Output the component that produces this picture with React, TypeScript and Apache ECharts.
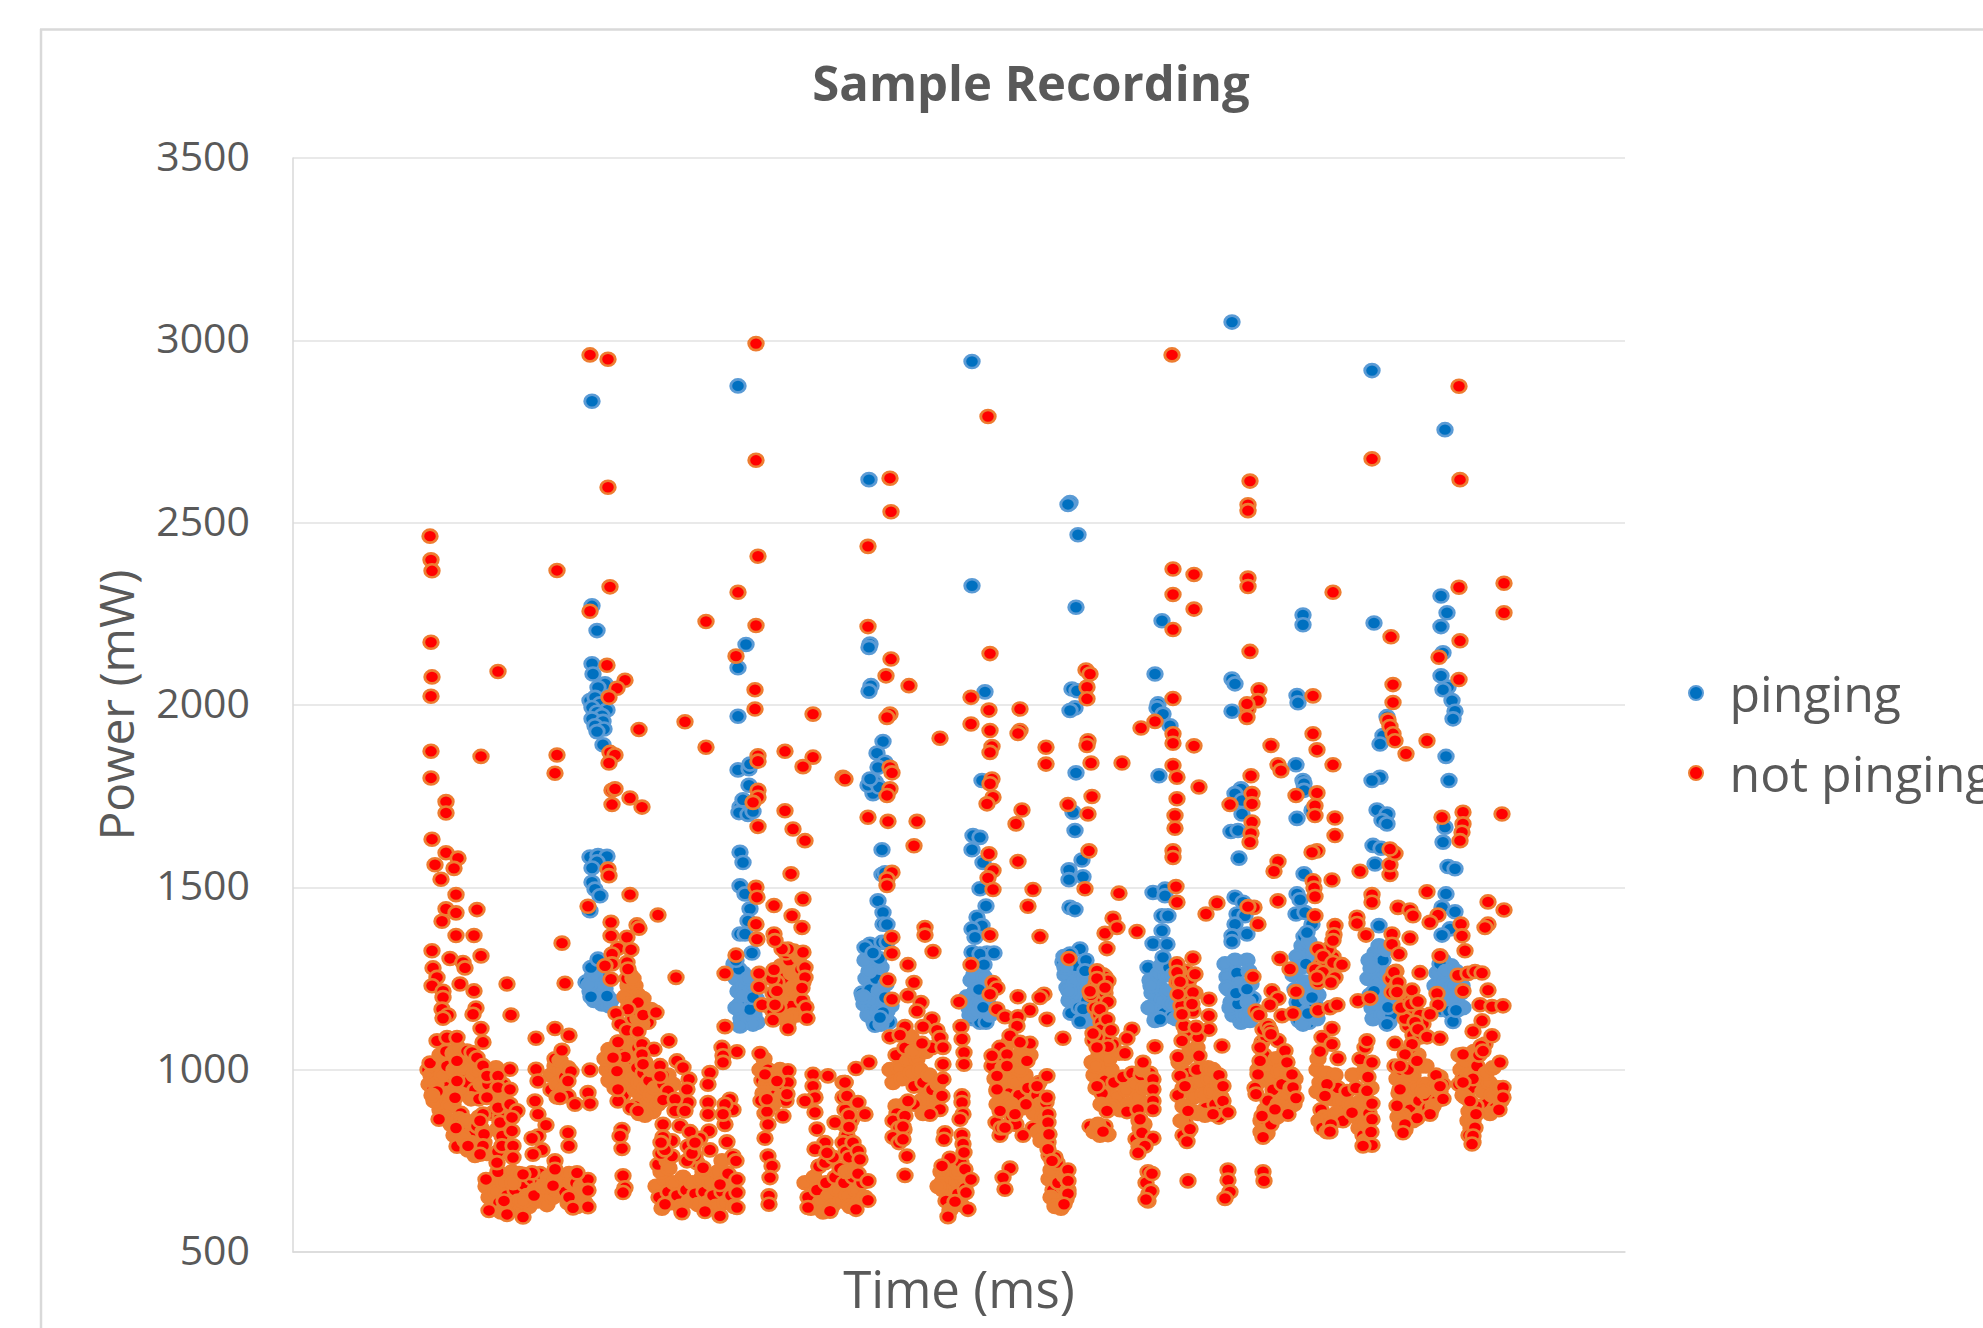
import React, { useEffect, useRef } from "react";
import * as echarts from "echarts";

const chartTitle = "Sample Recording";
const xAxisName = "Time (ms)";
const yAxisName = "Power (mW)";
const seriesNames = ["pinging", "not pinging"];

type P = number[];

// pinging: heavily overplotted lower clusters, drawn first
const pingMass1: P[] = [[293,1240],[297,1215],[299,1255],[301,1190],[303,1235],[305,1270],[306,1205],[309,1180],[310,1250],[312,1222],[314,1195],[316,1175],[300,1225],[304,1200],[308,1235],[296,1232],[298,1200],[318,1190],[302,1262],[306,1288],[298,1280]];
const pingMass2: P[] = [[441,1290],[443,1250],[445,1215],[447,1180],[448,1140],[450,1265],[451,1230],[453,1195],[454,1160],[456,1130],[458,1215],[459,1180],[461,1150],[463,1195],[464,1130],[446,1275],[449,1205],[452,1145],[455,1250],[457,1165],[460,1125],[443,1170],[447,1120]];
const pingMass3: P[] = [[569,1210],[571,1180],[573,1250],[575,1150],[577,1220],[578,1290],[580,1190],[581,1130],[583,1250],[585,1160],[586,1215],[588,1280],[590,1140],[591,1190],[593,1235],[594,1160],[596,1130],[598,1175],[576,1270],[570,1200],[582,1122],[588,1125],[592,1145],[572,1300],[586,1305]];
const pingMass4: P[] = [[674,1200],[676,1170],[678,1245],[680,1140],[682,1215],[684,1270],[685,1180],[687,1130],[689,1240],[690,1160],[692,1210],[693,1130],[695,1180],[697,1150],[681,1260],[686,1220],[677,1150],[683,1160],[691,1255]];
const pingMass5: P[] = [[770,1295],[772,1260],[774,1225],[776,1190],[778,1155],[780,1275],[782,1240],[784,1205],[786,1170],[788,1135],[790,1265],[792,1225],[794,1190],[795,1155],[796,1130],[776,1215],[783,1285],[792,1255],[771,1310],[772,1280]];
const pingMass6: P[] = [[855,1280],[857,1245],[859,1210],[861,1175],[863,1150],[865,1262],[867,1225],[869,1190],[871,1155],[873,1260],[875,1215],[877,1180],[879,1145],[881,1180],[883,1140],[856,1170],[866,1140],[862,1135],[858,1230],[868,1285],[876,1280],[880,1260]];
const pingMass7: P[] = [[932,1290],[934,1255],[936,1220],[938,1185],[940,1150],[942,1300],[944,1265],[946,1235],[948,1195],[950,1160],[952,1135],[954,1300],[956,1270],[958,1235],[960,1195],[948,1130],[951,1150],[937,1170],[945,1180],[955,1185],[934,1225],[958,1160],[943,1210],[957,1135]];
const pingMass8: P[] = [[1000,1260],[1002,1220],[1004,1185],[1005,1150],[1007,1300],[1009,1340],[1011,1365],[1012,1240],[1014,1195],[1015,1155],[1016,1130],[1018,1320],[1019,1280],[1021,1230],[1022,1180],[1024,1140],[1004,1310],[1008,1280],[1013,1290],[1017,1205],[1020,1150],[1025,1205],[1006,1135],[1010,1125],[1016,1350]];
const pingMass9: P[] = [[1075,1250],[1077,1205],[1079,1170],[1080,1140],[1082,1320],[1084,1280],[1085,1240],[1087,1195],[1089,1150],[1090,1300],[1092,1265],[1094,1220],[1095,1175],[1096,1130],[1098,1250],[1100,1190],[1076,1300],[1081,1215],[1086,1340],[1093,1330],[1078,1278],[1098,1150]];
const pingMass10: P[] = [[1142,1230],[1144,1265],[1146,1195],[1148,1165],[1150,1300],[1152,1240],[1154,1200],[1156,1160],[1158,1285],[1160,1230],[1162,1190],[1164,1163],[1166,1260],[1168,1210],[1170,1170],[1147,1290],[1153,1270],[1163,1270],[1169,1230]];

// pinging: readable stems and scattered upper points
const pingStem1: P[] = [[297,1583],[305,1587],[314,1585],[304,1570],[299,1553],[299,1514],[302,1495],[307,1477],[297,1436],[305,1303],[447,1596],[450,1568],[447,1504],[452,1482],[457,1441],[455,1408],[447,1372],[452,1372],[447,1720],[446,1705],[455,1700],[460,1708],[450,1740],[456,1780],[459,1320],[443,1300]];
const pingStem2: P[] = [[585,1463],[590,1431],[590,1399],[594,1398],[589,1603],[589,1535],[592,1540],[580,1757],[575,1780],[582,1790],[586,1775],[577,1344],[589,1349],[572,1335],[580,1320],[594,1350],[680,1642],[687,1637],[679,1603],[690,1568],[687,1496],[693,1449],[684,1418],[689,1395],[679,1386],[682,1363],[679,1322],[694,1320],[687,1317],[701,1320],[691,1288]];
const pingStem3: P[] = [[780,1706],[782,1656],[789,1575],[790,1529],[776,1548],[776,1521],[777,1445],[782,1439],[787,1331],[777,1317],[793,1300],[860,1486],[872,1495],[872,1477],[869,1422],[875,1422],[869,1381],[860,1346],[874,1344],[870,1308]];
const pingEdges: P[] = [[590,1157],[587,1143],[592,1198],[314,1202],[460,1198],[690,1171],[792,1271],[790,1166],[787,1132],[867,1138],[954,1221],[1019,1198],[1015,1154],[1094,1125],[1095,1171],[1160,1132],[1163,1163]];
const pingUpper1: P[] = [[299,2833],[445,2875],[299,2272],[304,2204],[453,2166],[445,2102],[445,1969],[299,2113],[300,2085],[312,2058],[305,2048],[297,2012],[302,2021],[307,2003],[314,1986],[299,1993],[304,1980],[309,1971],[299,1962],[310,1955],[302,1943],[311,1934],[304,1927],[310,1891],[445,1822],[456,1825],[457,1838]];
const pingUpper2: P[] = [[576,2618],[679,2942],[777,2555],[775,2550],[785,2467],[679,2327],[783,2268],[869,2231],[577,2167],[576,2158],[578,2053],[576,2038],[692,2036],[862,2085],[779,2044],[784,2039],[782,1992],[777,1985],[865,2003],[864,1992],[870,1975],[877,1943],[590,1900],[584,1868],[592,1843],[585,1829],[783,1814],[866,1806],[689,1793],[577,1797]];
const pingUpper3: P[] = [[939,3050],[1079,2917],[1152,2755],[1148,2299],[1154,2253],[1148,2215],[1010,2247],[1010,2220],[1081,2225],[1150,2143],[939,2071],[942,2058],[1004,2026],[1005,2006],[939,1983],[1148,2080],[1155,2049],[1150,2042],[1159,2012],[1162,1983],[1160,1962],[1094,1968],[1090,1916],[1087,1893],[1003,1836],[1153,1859],[1087,1802],[1079,1793],[1010,1793],[1156,1793]];
const pingUpper4: P[] = [[948,1770],[942,1757],[949,1738],[949,1701],[938,1653],[945,1656],[946,1580],[1011,1784],[1011,1766],[1004,1689],[1019,1711],[1011,1537],[1004,1482],[1007,1466],[1003,1427],[1012,1431],[1019,1399],[1014,1376],[942,1473],[950,1459],[944,1427],[952,1422],[942,1399],[954,1372],[939,1367],[939,1351],[1084,1712],[1094,1701],[1089,1683],[1094,1674],[1080,1615],[1088,1607],[1082,1564],[1153,1482],[1149,1445],[1162,1433],[1157,1386],[1149,1369],[1152,1665],[1150,1624],[1155,1557],[1162,1551],[1086,1395]];

// not pinging: heavily overplotted clusters, drawn first
const quietMass1: P[] = [[135,1000],[138,985],[136,960],[140,945],[142,1010],[145,975],[148,950],[146,925],[150,1000],[152,965],[155,935],[157,1025],[158,985],[160,905],[163,950],[165,1015],[166,975],[170,1040],[172,990],[175,940],[178,1010],[168,880],[147,890],[141,915],[137,1018],[143,960],[149,985],[154,1010],[161,1000],[169,1005],[174,965],[181,985],[185,1000],[182,945],[188,960],[178,920],[186,920],[156,900],[152,870],[144,940],[139,930],[147,1040],[153,1050],[160,1045],[165,1060],[195,960],[199,930],[203,1005],[210,960],[207,925],[212,885],[199,880]];
const quietMass2: P[] = [[158,850],[161,820],[164,790],[166,865],[169,835],[172,805],[175,780],[177,850],[180,820],[183,790],[186,870],[188,840],[191,800],[194,770],[168,850],[173,860],[178,800],[184,845],[190,830],[170,815],[163,840],[182,765],[204,835],[207,870],[211,810],[214,775],[205,775]];
const quietMass3: P[] = [[193,680],[196,650],[198,620],[200,700],[203,665],[206,635],[208,610],[211,690],[214,655],[216,625],[219,705],[222,670],[225,640],[228,615],[231,685],[234,655],[236,625],[239,700],[242,670],[245,640],[248,695],[251,660],[254,630],[257,680],[260,650],[263,670],[205,720],[219,720],[226,715],[247,715],[255,705],[262,695],[211,640],[220,690],[230,640],[241,655],[250,680]];
const quietMass4: P[] = [[270,700],[272,665],[275,635],[278,690],[281,655],[284,625],[287,700],[290,665],[292,635],[276,715],[283,690],[288,680],[285,660],[276,650],[258,985],[262,1010],[258,945],[264,960],[268,1000],[272,980],[264,925],[270,945],[262,1030],[267,1025],[275,1005],[278,995]];
const quietMass5: P[] = [[314,1000],[316,970],[318,1040],[320,1010],[322,950],[324,1050],[326,1020],[328,985],[330,930],[332,1000],[335,960],[338,1030],[340,985],[342,945],[344,1005],[346,965],[348,925],[350,990],[352,950],[354,905],[356,970],[358,930],[360,885],[342,900],[346,880],[352,875],[338,895],[362,950],[365,905],[332,1060],[336,1070],[340,1040],[345,1060],[312,1030],[316,1055],[325,1075],[358,1000],[352,1020],[370,960],[375,985],[380,960],[370,985]];
const quietMass6: P[] = [[335,1230],[338,1210],[340,1190],[342,1230],[345,1205],[347,1170],[350,1195],[337,1260],[334,1250],[340,1250],[352,1150],[355,1130],[358,1165],[349,1125],[340,1140],[345,1140],[332,1200],[341,1165],[336,1180]];
const quietMass7: P[] = [[363,680],[366,650],[369,620],[372,700],[375,665],[378,635],[381,690],[384,655],[387,625],[390,705],[393,670],[396,640],[399,690],[402,660],[405,630],[408,700],[411,665],[414,635],[417,690],[420,655],[423,625],[426,700],[429,665],[432,635],[435,690],[438,655],[441,625],[368,720],[365,740],[374,750],[376,730],[404,745],[410,720],[425,720],[435,715],[429,750]];
const quietMass8: P[] = [[467,1000],[469,970],[471,1030],[473,960],[475,1000],[477,945],[479,985],[482,930],[485,960],[470,935],[468,915],[475,915],[487,1000],[490,960],[492,985],[488,925],[493,915],[480,905]];
const quietMass9: P[] = [[488,1285],[490,1250],[492,1210],[494,1165],[496,1300],[498,1265],[500,1225],[502,1185],[504,1150],[506,1310],[508,1275],[510,1240],[505,1200],[498,1175],[495,1130],[500,1150],[509,1190],[492,1145],[487,1190],[493,1320],[501,1325]];
const quietMass10: P[] = [[512,690],[515,650],[518,620],[521,705],[524,670],[527,635],[530,610],[533,690],[536,655],[539,625],[542,705],[545,670],[548,640],[551,690],[554,655],[557,625],[560,705],[563,670],[566,640],[569,690],[572,650],[526,735],[547,730],[553,720],[560,725],[565,715]];
const quietMass12: P[] = [[597,1000],[600,965],[603,1040],[606,1005],[609,975],[612,1060],[615,1025],[618,990],[621,955],[624,1030],[627,1000],[630,965],[633,930],[636,985],[639,945],[642,900],[645,960],[648,930],[636,900],[628,915],[621,905],[630,880],[633,1050],[639,1060],[612,905],[603,900],[604,880],[618,1090],[620,1050]];
const quietMass13: P[] = [[655,700],[658,670],[661,640],[655,660],[659,720],[663,690],[665,660],[668,630],[670,700],[672,675],[650,695],[650,670],[653,640],[657,615],[664,720],[668,745],[645,680],[648,720]];
const quietMass14: P[] = [[699,1010],[702,975],[704,940],[707,1040],[710,1005],[713,970],[716,935],[720,1000],[723,965],[726,930],[729,895],[732,985],[735,950],[738,915],[741,880],[744,930],[747,905],[750,870],[753,910],[727,1000],[712,920],[709,890],[704,905],[718,905],[733,905],[724,1030],[737,1040],[746,965],[729,1050],[716,1075],[740,840],[745,830],[752,840],[755,800],[748,805]];
const quietMass15: P[] = [[756,700],[760,670],[763,640],[767,715],[770,680],[773,645],[758,650],[765,690],[771,710],[758,725],[764,745],[768,620],[762,625],[775,670]];
const quietMass16: P[] = [[799,1020],[801,985],[803,950],[806,1040],[809,1005],[812,970],[815,930],[818,1000],[821,965],[824,925],[827,890],[830,980],[833,945],[836,905],[839,990],[842,960],[845,925],[848,985],[851,950],[854,905],[857,990],[816,1030],[803,1010],[809,935],[819,900],[808,905],[834,885],[826,1045],[849,1000],[797,845],[801,830],[807,820],[812,845],[815,822],[805,850],[846,860],[851,850],[847,840],[843,810],[846,790]];
const quietMass17: P[] = [[886,1020],[888,985],[890,950],[892,1030],[895,990],[898,960],[901,925],[904,1000],[907,965],[910,930],[913,895],[916,975],[919,940],[922,905],[925,960],[928,925],[931,890],[900,885],[905,880],[892,855],[895,830],[888,860],[890,820],[915,1005],[920,1000],[926,985],[897,1050],[904,1060],[885,930],[890,900],[912,875],[926,870]];
const quietMass18: P[] = [[965,1000],[968,970],[971,1040],[974,1010],[977,975],[980,945],[983,1030],[986,995],[989,960],[992,925],[995,990],[998,950],[1001,905],[972,890],[975,915],[979,880],[985,905],[990,880],[996,895],[968,860],[971,840],[974,825],[968,830],[978,850],[984,870],[1002,975],[962,950]];
const quietMass19: P[] = [[1024,1000],[1027,965],[1030,930],[1025,1030],[1033,990],[1036,955],[1039,920],[1042,985],[1045,950],[1048,915],[1051,880],[1054,940],[1057,905],[1060,985],[1063,950],[1066,910],[1069,870],[1028,890],[1031,870],[1026,860],[1029,840],[1036,865],[1043,880],[1050,860],[1063,870],[1066,840],[1070,820],[1073,850],[1072,805],[1076,880],[1072,1000],[1034,830],[1038,850],[1024,940],[1078,950]];
const quietMass20: P[] = [[1102,1010],[1104,975],[1106,935],[1108,1000],[1111,965],[1114,925],[1117,890],[1120,985],[1123,950],[1126,915],[1129,880],[1132,960],[1135,925],[1138,890],[1141,950],[1144,915],[1147,980],[1147,940],[1135,895],[1130,940],[1140,900],[1150,960],[1120,1040],[1128,1010],[1115,1000],[1110,875],[1105,870],[1112,835],[1107,845],[1120,860],[1143,985],[1125,1040],[1133,1010],[1150,920]];
const quietMass21: P[] = [[1166,1040],[1168,1000],[1170,975],[1172,1020],[1175,985],[1178,950],[1172,925],[1181,1050],[1184,1010],[1187,975],[1190,940],[1193,905],[1196,965],[1199,930],[1202,895],[1205,950],[1208,915],[1180,975],[1193,990],[1200,1005],[1166,960],[1170,930],[1176,885],[1183,900],[1178,840],[1175,860],[1176,820],[1180,860],[1180,800],[1186,1040],[1197,880]];

// not pinging: looser columns with readable red centres
const quietLoose1: P[] = [[475,1175],[480,1210],[480,1160],[484,1240],[486,1170],[479,1250],[472,880],[474,885],[550,965],[553,930],[556,900],[560,870],[552,890],[551,850],[554,820],[558,860],[550,800],[553,775],[556,760],[560,800],[556,875],[526,735],[532,745],[540,760]];
const quietLoose2: P[] = [[600,860],[606,840],[600,815],[611,835],[606,800],[703,855],[707,820],[708,840],[719,870],[723,850],[730,820],[756,765],[762,760],[820,1070],[811,1075],[855,720],[853,690],[856,660],[855,640],[905,1090],[893,1105],[891,1120],[969,1075],[973,1090],[970,1110],[975,1120],[985,1080],[1118,1060],[1192,1070],[1188,1065]];
const quietLoose3: P[] = [[1112,1160],[1115,1195],[1118,1130],[1121,1165],[1124,1100],[1127,1150],[1130,1125],[1115,1120],[1112,1140],[1120,1095],[1122,1130],[1108,1170],[1128,1090],[1118,1180],[1103,1270],[1104,1240],[1098,1250],[1102,1225],[1106,1210],[1099,1212]];
const quietLoose4: P[] = [[1030,1320],[1036,1280],[1028,1290],[1033,1250],[1025,1240],[1022,1275],[1040,1310],[1035,1330],[893,1270],[895,1230],[891,1195],[897,1250],[892,1160],[898,1200],[894,1170],[890,1220],[902,1210],[886,1270],[884,1240],[888,1175],[900,1160],[803,1235],[806,1205],[802,1170],[806,1150],[808,1130],[810,1195],[810,1260],[808,1110],[813,1090],[812,1210],[798,1205],[800,1080],[804,1090],[812,1255]];

// not pinging: individually readable points, drawn on top
const quietUpper1: P[] = [[297,2960],[315,2948],[315,2597],[463,2991],[463,2671],[137,2463],[138,2398],[139,2368],[264,2369],[317,2324],[297,2257],[445,2309],[465,2408],[413,2229],[463,2218],[138,2172],[314,2109],[443,2134],[139,2077],[205,2092],[332,2068],[324,2046],[316,2021],[138,2024],[462,2042],[462,1989],[520,1975],[392,1954],[346,1933],[413,1884],[138,1873],[188,1859],[264,1863],[262,1813],[138,1800],[317,1870],[322,1863],[316,1841],[465,1861],[465,1846],[492,1873],[520,1857],[510,1831],[550,1802]];
const quietUpper2: P[] = [[597,2622],[598,2530],[575,2435],[575,2215],[598,2126],[593,2080],[616,2053],[597,1975],[594,1966],[647,1909],[695,2791],[697,2141],[678,2021],[696,1986],[727,1989],[678,1948],[697,1930],[727,1930],[725,1922],[699,1886],[697,1870],[753,1884],[753,1838],[795,1902],[794,1889],[798,1841],[829,1841],[552,1797],[597,1829],[599,1814],[699,1797],[793,2096],[797,2085],[794,2049],[794,2017],[879,2960],[880,2373],[880,2303],[880,2207],[880,2018],[848,1937],[862,1955],[880,1921],[880,1895],[880,1834],[884,1802]];
const quietUpper3: P[] = [[1166,2874],[1167,2618],[1079,2675],[957,2614],[955,2549],[955,2533],[955,2348],[955,2325],[901,2358],[901,2263],[1040,2309],[1166,2323],[1211,2334],[1211,2253],[1098,2187],[1167,2176],[957,2147],[1100,2056],[1166,2070],[1146,2131],[966,2042],[965,2012],[1020,2025],[955,1989],[954,2003],[954,1966],[1100,2007],[1095,1959],[1097,1941],[1100,1921],[1102,1902],[1113,1866],[1134,1902],[1020,1921],[1024,1877],[978,1889],[901,1888],[985,1836],[988,1820],[1040,1836],[958,1806]];
const quietSide1: P[] = [[153,1735],[153,1704],[139,1632],[153,1595],[165,1580],[142,1562],[161,1552],[148,1522],[163,1480],[153,1441],[163,1430],[184,1439],[149,1407],[163,1368],[181,1368],[139,1326],[157,1305],[188,1312],[170,1294],[172,1279],[140,1279],[144,1253],[139,1230],[167,1235],[150,1215],[181,1216],[150,1198],[149,1166],[183,1169],[180,1152],[155,1150],[150,1141],[214,1235],[218,1150],[188,1113],[190,1075],[144,1079],[154,1088],[164,1088],[262,1113],[276,1094],[243,1086],[269,1347],[272,1237],[269,1053]];
const quietSide2: P[] = [[146,864],[162,923],[164,969],[164,1024],[174,1051],[179,1047],[184,1033],[190,1011],[194,983],[194,924],[190,878],[187,860],[191,823],[190,791],[175,791],[187,768],[205,983],[205,951],[205,896],[207,855],[209,818],[209,791],[220,791],[220,759],[204,745],[217,1001],[217,946],[217,905],[224,887],[219,869],[219,832],[243,1001],[245,969],[242,914],[245,878],[253,848],[245,818],[239,812],[249,780],[240,768],[262,750],[262,727],[260,682],[230,596],[214,603],[196,614],[193,699],[239,717],[230,713],[295,699],[295,669],[295,624],[280,621],[284,717],[275,969],[275,928],[267,924],[282,905],[297,999],[295,937],[297,907],[275,827],[276,791],[329,836],[329,784],[330,709],[332,676],[330,663],[327,818]];
const quietSide3: P[] = [[319,1766],[322,1770],[319,1727],[337,1745],[349,1720],[465,1766],[465,1747],[460,1733],[492,1710],[465,1667],[500,1660],[512,1628],[498,1537],[315,1550],[316,1532],[337,1480],[295,1448],[365,1424],[318,1404],[318,1367],[334,1363],[344,1397],[346,1388],[325,1333],[338,1329],[319,1317],[319,1290],[312,1285],[334,1294],[335,1276],[318,1248],[383,1253],[345,1184],[335,1166],[323,1154],[350,1150],[363,1157],[327,1125],[334,1108],[345,1105],[325,1076],[349,1070],[376,1079],[361,1056],[349,1042],[332,1035],[350,1015]];
const quietSide4: P[] = [[367,1011],[367,982],[375,942],[370,917],[345,887],[325,914],[325,946],[324,996],[320,1033],[384,1024],[390,1006],[396,974],[394,946],[395,910],[382,919],[382,887],[392,887],[417,992],[415,960],[415,910],[415,878],[416,832],[417,780],[407,812],[400,786],[402,763],[394,750],[387,846],[379,805],[379,763],[370,850],[369,800],[429,1061],[430,1038],[430,1020],[444,1049],[437,919],[440,890],[432,850],[434,802],[440,763],[443,750],[432,905],[430,878],[444,699],[444,663],[444,622],[427,599],[412,611],[389,608],[372,631],[410,731],[427,685],[368,770],[372,780],[370,815],[368,800],[395,790],[399,770],[397,830],[402,800]];
const quietSide5: P[] = [[495,997],[495,965],[494,933],[490,873],[472,987],[474,919],[475,850],[472,812],[475,763],[479,736],[477,704],[476,654],[476,631],[484,969],[467,1044],[520,987],[535,983],[520,955],[522,924],[522,883],[524,837],[512,914],[542,855],[532,800],[522,782],[534,772],[552,965],[550,924],[515,622],[537,612],[443,1314],[432,1264],[432,1118],[466,1264],[466,1227],[481,1274],[484,1216],[510,1322],[512,1280],[512,1253],[509,1224],[513,1171],[514,1141],[480,1136],[469,1178],[482,1178],[495,1113],[495,1331],[489,1331],[481,1372],[482,1354],[463,1399],[464,1358],[481,1450],[499,1422],[509,1390],[510,1468],[463,1500],[464,1473]];
const quietSide6: P[] = [[597,1770],[594,1752],[575,1692],[595,1681],[624,1681],[621,1614],[599,1541],[594,1523],[594,1505],[632,1390],[632,1369],[640,1324],[599,1363],[599,1319],[615,1288],[621,1239],[595,1246],[615,1203],[599,1193],[628,1184],[624,1161],[666,1186],[639,1139],[630,1118],[644,1108],[647,1088],[650,1061],[612,1118],[597,1090],[607,1095],[629,1072],[668,1118],[669,1084],[671,1047],[671,1015],[576,1020],[563,1003],[552,965],[554,928],[565,910],[572,878],[556,843],[565,777],[567,754],[575,695],[575,642],[563,617],[650,1015],[650,974],[649,928],[647,891],[637,878],[615,914],[612,873],[610,844],[610,809],[614,763],[612,710],[652,827],[651,809],[657,757],[649,736],[669,928],[669,910],[670,878],[667,864],[669,821],[670,796],[671,773],[672,727],[678,699],[675,617],[655,597],[662,638],[673,663]];
const quietSide7: P[] = [[700,1747],[694,1729],[697,1784],[729,1712],[723,1674],[696,1592],[700,1546],[695,1526],[700,1494],[725,1571],[740,1494],[735,1448],[747,1365],[697,1369],[678,1288],[700,1239],[704,1224],[697,1207],[725,1200],[751,1207],[747,1198],[704,1166],[737,1163],[712,1145],[725,1145],[724,1120],[754,1138],[770,1086],[717,1093],[707,1061],[737,1072],[727,1075],[699,1038],[714,1042],[734,1024],[714,1010],[754,983],[704,983],[704,946],[744,955],[754,924],[707,887],[722,878],[755,878],[712,841],[755,855],[756,823],[755,782],[759,750],[717,730],[710,704],[712,672],[775,725],[775,695],[775,660],[771,631]];
const quietSide8: P[] = [[775,1727],[799,1749],[795,1701],[796,1600],[792,1496],[826,1484],[776,1305],[820,1415],[812,1374],[824,1390],[844,1379],[814,1332],[804,1271],[815,1244],[797,1215],[804,1250],[812,1225],[815,1186],[807,1166],[814,1138],[818,1108],[800,1099],[839,1111],[834,1086],[815,1063],[804,1061],[832,1045],[862,1063],[850,1020],[860,974],[860,946],[860,914],[860,891],[804,955],[814,887],[845,891],[847,864],[849,827],[860,812],[852,791],[845,772],[810,830],[859,715],[858,667],[853,644]];
const quietSide9: P[] = [[884,1743],[906,1775],[882,1697],[882,1662],[880,1600],[880,1582],[883,1502],[884,1459],[924,1457],[913,1427],[959,1757],[959,1729],[937,1727],[959,1679],[958,1648],[957,1624],[985,1571],[981,1544],[961,1445],[955,1447],[965,1399],[985,1463],[960,1255],[900,1306],[884,1290],[884,1267],[902,1262],[887,1241],[900,1212],[885,1207],[916,1193],[889,1152],[899,1180],[916,1148],[916,1111],[903,1116],[889,1079],[929,1065],[906,1038],[885,1035],[887,983],[892,955],[930,955],[930,914],[935,883],[895,887],[897,837],[894,803],[920,878],[895,695],[935,725],[935,697],[937,665],[932,647],[970,720],[971,695]];
const quietSide10: P[] = [[1003,1752],[1024,1759],[1022,1724],[1022,1697],[1042,1690],[1042,1642],[1024,1600],[1019,1596],[1020,1518],[1039,1520],[1021,1498],[1022,1475],[1022,1422],[1042,1395],[1041,1370],[1040,1354],[987,1305],[997,1276],[1003,1214],[979,1216],[985,1196],[977,1178],[963,1161],[966,1150],[989,1148],[1000,1154],[1025,1331],[1030,1311],[1040,1294],[1049,1288],[1030,1267],[1042,1253],[1024,1253],[1038,1239],[1025,1163],[1037,1170],[1044,1178],[1039,1113],[1029,1088],[1039,1070],[977,1108],[978,1097],[967,1061],[992,1052],[967,1024],[994,1020],[999,987],[1000,951],[1003,922],[965,987],[963,933],[995,878],[982,891],[969,873],[970,815],[1027,1050],[1045,1031],[1067,1029],[1079,1020],[1072,1061],[1074,1079],[1075,980],[1074,942],[1079,907],[1079,864],[1078,829],[1079,793],[1070,791],[1034,960],[1032,928],[1037,830],[1059,882]];
const quietSide11: P[] = [[1067,1544],[1097,1535],[1097,1562],[1102,1593],[1097,1605],[1079,1480],[1079,1459],[1064,1418],[1064,1401],[1073,1369],[1065,1189],[1077,1196],[1099,1372],[1099,1344],[1106,1317],[1117,1361],[1105,1445],[1117,1438],[1120,1422],[1101,1267],[1105,1239],[1104,1213],[1127,1266],[1119,1218],[1125,1187],[1144,1209],[1145,1178],[1137,1152],[1125,1111],[1134,1090],[1147,1086],[1102,1072],[1119,1070],[1112,1042],[1124,1024],[1147,955],[1107,1010],[1107,946],[1104,901],[1137,878],[1124,867],[1112,850],[1110,827]];
const quietSide12: P[] = [[1134,1488],[1149,1692],[1170,1706],[1170,1674],[1169,1651],[1167,1628],[1209,1701],[1145,1424],[1137,1404],[1195,1460],[1211,1438],[1195,1399],[1192,1390],[1168,1399],[1169,1367],[1172,1326],[1147,1312],[1165,1259],[1175,1264],[1182,1269],[1189,1265],[1170,1216],[1195,1218],[1187,1178],[1199,1173],[1210,1175],[1189,1134],[1180,1105],[1199,1093],[1170,1042],[1190,1051],[1207,1020],[1210,951],[1210,924],[1206,890],[1183,878],[1182,841],[1180,818],[1179,796],[1170,965],[1177,914]];

const pingOverplot = [pingMass1, pingMass2, pingMass3, pingMass4, pingMass5, pingMass6, pingMass7, pingMass8, pingMass9, pingMass10].flat();
const pingReadable = [pingStem1, pingStem2, pingStem3, pingEdges, pingUpper1, pingUpper2, pingUpper3, pingUpper4].flat();
const quietOverplot = [quietMass1, quietMass2, quietMass3, quietMass4, quietMass5, quietMass6, quietMass7, quietMass8, quietMass9, quietMass10, quietMass12, quietMass13, quietMass14, quietMass15, quietMass16, quietMass17, quietMass18, quietMass19, quietMass20, quietMass21].flat();
const quietReadable = [quietLoose1, quietLoose2, quietLoose3, quietLoose4, quietUpper1, quietUpper2, quietUpper3, quietSide1, quietSide2, quietSide3, quietSide4, quietSide5, quietSide6, quietSide7, quietSide8, quietSide9, quietSide10, quietSide11, quietSide12].flat();

const ellipse = "path://M0,5A5,5,0,1,1,10,5A5,5,0,1,1,0,5Z";
const textColor = "#595959";
const fontFamily = "'Open Sans', 'Noto Sans', sans-serif";
const pingFill = "#0070C0";
const pingRing = "#5B9BD5";
const quietFill = "#FF0000";
const quietRing = "#ED7D31";

// Overplotted discs show mostly their rings, so most marks of a cluster take the ring colour;
// every "keep"-th one keeps its own fill, as the surviving centres do in the reference.
const overplotted = (points: P[], color: string, keep: number) =>
  points.map((value, i) => (i % keep === 0 ? value : { value, itemStyle: { color } }));

export default function App() {
  const ref = useRef<HTMLDivElement>(null);
  useEffect(() => {
    document.body.style.margin = "0";
    document.body.style.overflow = "hidden";
    const chart = echarts.init(ref.current!, undefined, { renderer: "svg" });
    chart.setOption({
      animation: false,
      backgroundColor: "#ffffff",
      title: {
        text: chartTitle,
        left: 1026,
        top: 52,
        textAlign: "center",
        textStyle: { fontFamily, fontSize: 49, fontWeight: 700, color: textColor },
      },
      legend: {
        orient: "vertical",
        left: 1683,
        top: 663,
        itemWidth: 15,
        itemHeight: 14,
        itemGap: 30,
        textStyle: { fontFamily, fontSize: 50, color: textColor, padding: [0, 0, 0, 21] },
        data: seriesNames,
      },
      grid: { left: 293, right: 358, top: 158, bottom: 76 },
      xAxis: {
        type: "value",
        name: xAxisName,
        nameLocation: "middle",
        nameGap: 36,
        nameTextStyle: { fontFamily, fontSize: 51, color: textColor, verticalAlign: "middle" },
        min: 0,
        max: 1332,
        axisLabel: { show: false },
        axisTick: { show: false },
        splitLine: { show: false },
        axisLine: { onZero: false, lineStyle: { color: "#d9d9d9", width: 1.5 } },
      },
      yAxis: {
        type: "value",
        name: yAxisName,
        nameLocation: "middle",
        nameGap: 178,
        nameRotate: 90,
        nameTextStyle: { fontFamily, fontSize: 48, color: textColor, verticalAlign: "middle" },
        min: 500,
        max: 3500,
        interval: 500,
        axisLabel: {
          margin: 43,
          formatter: (v: number) => `{tick|${v}}`,
          rich: { tick: { fontFamily, fontSize: 41, color: textColor, padding: [0, 0, 6, 0] } },
        },
        axisTick: { show: false },
        axisLine: { show: true, lineStyle: { color: "#d9d9d9", width: 1.5 } },
        splitLine: { lineStyle: { color: "#e2e2e2", width: 1.5 } },
      },
      graphic: [
        { type: "line", shape: { x1: 41, y1: 29, x2: 41, y2: 1328 }, style: { stroke: "#d9d9d9", lineWidth: 2.5 } },
        { type: "line", shape: { x1: 40, y1: 29.5, x2: 1983, y2: 29.5 }, style: { stroke: "#d9d9d9", lineWidth: 2.5 } },
      ],
      series: [
        {
          name: seriesNames[0],
          type: "scatter",
          symbol: ellipse,
          symbolSize: [14.5, 13],
          data: [...overplotted(pingOverplot, pingRing, 4), ...pingReadable],
          z: 2,
          itemStyle: { color: pingFill, borderColor: pingRing, borderWidth: 2.75, opacity: 1 },
        },
        {
          name: seriesNames[1],
          type: "scatter",
          symbol: ellipse,
          symbolSize: [14.5, 13],
          data: [...overplotted(quietOverplot, quietRing, 3), ...quietReadable],
          z: 3,
          itemStyle: { color: quietFill, borderColor: quietRing, borderWidth: 2.75, opacity: 1 },
        },
      ],
    });
    return () => chart.dispose();
  }, []);
  return <div ref={ref} style={{ position: "absolute", left: 0, top: 0, width: 1983, height: 1328 }} />;
}
